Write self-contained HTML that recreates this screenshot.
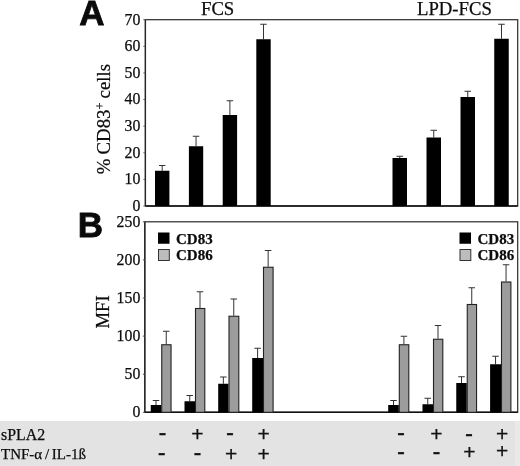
<!DOCTYPE html>
<html><head><meta charset="utf-8"><title>Figure</title>
<style>
html,body{margin:0;padding:0;background:#fff;}
body{width:520px;height:466px;overflow:hidden;}
svg{display:block;}
text{font-family:"Liberation Serif","DejaVu Serif",serif;fill:#0c0c0c;stroke:#0c0c0c;stroke-width:0.25px;}
.t{font-size:15.8px;text-anchor:end;}
.h{font-size:18.7px;}
.pl{font-family:"Liberation Sans","DejaVu Sans",sans-serif;font-weight:bold;fill:#0a0a0a;stroke:#0a0a0a;stroke-width:0.8px;font-size:35px;}
.lg{font-size:15px;font-weight:bold;}
.pm{font-family:"Liberation Sans","DejaVu Sans",sans-serif;font-size:21px;text-anchor:middle;fill:#111;}
.mn{font-size:24px;}
.row{font-size:15px;}
</style></head><body>
<svg width="520" height="466" viewBox="0 0 520 466">
<rect x="0" y="0" width="520" height="466" fill="#fff"/>
<rect x="0" y="421" width="520" height="45" fill="#e3e3e3"/>
<rect x="515" y="421" width="5" height="45" fill="#e9e9e9"/>

<rect x="145.4" y="19.7" width="372.30000000000007" height="186.3" fill="none" stroke="#2a2a2a" stroke-width="1.2"/>
<line x1="145.4" y1="19.7" x2="145.4" y2="206.0" stroke="#262626" stroke-width="1.35"/>
<line x1="145.4" y1="206.0" x2="517.7" y2="206.0" stroke="#111" stroke-width="1.5"/>
<rect x="144.8" y="221.8" width="372.90000000000003" height="190.5" fill="none" stroke="#2a2a2a" stroke-width="1.2"/>
<line x1="144.8" y1="221.8" x2="144.8" y2="412.3" stroke="#262626" stroke-width="1.35"/>
<line x1="144.8" y1="412.3" x2="517.7" y2="412.3" stroke="#111" stroke-width="1.5"/>
<line x1="143.4" y1="206.00" x2="145.4" y2="206.00" stroke="#555" stroke-width="1"/>
<text class="t" x="140.3" y="210.80">0</text>
<line x1="143.4" y1="179.39" x2="145.4" y2="179.39" stroke="#555" stroke-width="1"/>
<text class="t" x="140.3" y="184.19">10</text>
<line x1="143.4" y1="152.77" x2="145.4" y2="152.77" stroke="#555" stroke-width="1"/>
<text class="t" x="140.3" y="157.57">20</text>
<line x1="143.4" y1="126.16" x2="145.4" y2="126.16" stroke="#555" stroke-width="1"/>
<text class="t" x="140.3" y="130.96">30</text>
<line x1="143.4" y1="99.54" x2="145.4" y2="99.54" stroke="#555" stroke-width="1"/>
<text class="t" x="140.3" y="104.34">40</text>
<line x1="143.4" y1="72.93" x2="145.4" y2="72.93" stroke="#555" stroke-width="1"/>
<text class="t" x="140.3" y="77.73">50</text>
<line x1="143.4" y1="46.31" x2="145.4" y2="46.31" stroke="#555" stroke-width="1"/>
<text class="t" x="140.3" y="51.11">60</text>
<line x1="143.4" y1="19.70" x2="145.4" y2="19.70" stroke="#555" stroke-width="1"/>
<text class="t" x="140.3" y="24.50">70</text>
<line x1="142.8" y1="412.30" x2="144.8" y2="412.30" stroke="#555" stroke-width="1"/>
<text class="t" x="140.3" y="417.10">0</text>
<line x1="142.8" y1="374.20" x2="144.8" y2="374.20" stroke="#555" stroke-width="1"/>
<text class="t" x="140.3" y="379.00">50</text>
<line x1="142.8" y1="336.10" x2="144.8" y2="336.10" stroke="#555" stroke-width="1"/>
<text class="t" x="140.3" y="340.90">100</text>
<line x1="142.8" y1="298.00" x2="144.8" y2="298.00" stroke="#555" stroke-width="1"/>
<text class="t" x="140.3" y="302.80">150</text>
<line x1="142.8" y1="259.90" x2="144.8" y2="259.90" stroke="#555" stroke-width="1"/>
<text class="t" x="140.3" y="264.70">200</text>
<line x1="142.8" y1="221.80" x2="144.8" y2="221.80" stroke="#555" stroke-width="1"/>
<text class="t" x="140.3" y="226.60">250</text>
<path d="M162.20 170.75V165.50M158.95 165.50H165.45" stroke="#333" stroke-width="1" fill="none"/>
<rect x="155.0" y="170.75" width="14.400000000000006" height="35.25" fill="#000"/>
<path d="M196.05 146.25V136.25M192.80 136.25H199.30" stroke="#333" stroke-width="1" fill="none"/>
<rect x="188.9" y="146.25" width="14.299999999999983" height="59.75" fill="#000"/>
<path d="M229.90 115.00V100.75M226.65 100.75H233.15" stroke="#333" stroke-width="1" fill="none"/>
<rect x="222.7" y="115" width="14.400000000000006" height="91.0" fill="#000"/>
<path d="M263.50 39.25V24.25M260.25 24.25H266.75" stroke="#333" stroke-width="1" fill="none"/>
<rect x="256.3" y="39.25" width="14.399999999999977" height="166.75" fill="#000"/>
<path d="M399.75 158.00V156.25M396.50 156.25H403.00" stroke="#333" stroke-width="1" fill="none"/>
<rect x="392.5" y="158" width="14.5" height="48.0" fill="#000"/>
<path d="M433.75 137.50V130.25M430.50 130.25H437.00" stroke="#333" stroke-width="1" fill="none"/>
<rect x="426.5" y="137.5" width="14.5" height="68.5" fill="#000"/>
<path d="M467.75 97.00V91.25M464.50 91.25H471.00" stroke="#333" stroke-width="1" fill="none"/>
<rect x="460.5" y="97" width="14.5" height="109.0" fill="#000"/>
<path d="M501.50 38.75V24.25M498.25 24.25H504.75" stroke="#333" stroke-width="1" fill="none"/>
<rect x="494.25" y="38.75" width="14.5" height="167.25" fill="#000"/>
<path d="M156.00 405.00V400.50M152.75 400.50H159.25" stroke="#333" stroke-width="1" fill="none"/>
<path d="M166.25 344.25V331.25M163.00 331.25H169.50" stroke="#333" stroke-width="1" fill="none"/>
<rect x="150.75" y="405" width="10.5" height="7.300000000000011" fill="#000"/>
<rect x="161.75" y="344.75" width="9.3" height="67.55000000000001" fill="#9c9c9c" stroke="#222" stroke-width="1.1"/>
<path d="M189.75 401.25V395.50M186.50 395.50H193.00" stroke="#333" stroke-width="1" fill="none"/>
<path d="M200.00 308.00V291.75M196.75 291.75H203.25" stroke="#333" stroke-width="1" fill="none"/>
<rect x="184.5" y="401.25" width="10.5" height="11.050000000000011" fill="#000"/>
<rect x="195.5" y="308.5" width="9.3" height="103.80000000000001" fill="#9c9c9c" stroke="#222" stroke-width="1.1"/>
<path d="M223.35 383.75V377.00M220.10 377.00H226.60" stroke="#333" stroke-width="1" fill="none"/>
<path d="M233.75 315.75V299.00M230.50 299.00H237.00" stroke="#333" stroke-width="1" fill="none"/>
<rect x="218.2" y="383.75" width="10.300000000000011" height="28.55000000000001" fill="#000"/>
<rect x="229.0" y="316.25" width="9.8" height="96.05000000000001" fill="#9c9c9c" stroke="#222" stroke-width="1.1"/>
<path d="M257.60 358.00V348.25M254.35 348.25H260.85" stroke="#333" stroke-width="1" fill="none"/>
<path d="M268.15 266.75V250.50M264.90 250.50H271.40" stroke="#333" stroke-width="1" fill="none"/>
<rect x="252.2" y="358" width="10.800000000000011" height="54.30000000000001" fill="#000"/>
<rect x="263.5" y="267.25" width="9.600000000000012" height="145.05" fill="#9c9c9c" stroke="#222" stroke-width="1.1"/>
<path d="M393.50 405.00V400.50M390.25 400.50H396.75" stroke="#333" stroke-width="1" fill="none"/>
<path d="M403.90 344.25V336.25M400.65 336.25H407.15" stroke="#333" stroke-width="1" fill="none"/>
<rect x="388.2" y="405" width="10.600000000000023" height="7.300000000000011" fill="#000"/>
<rect x="399.3" y="344.75" width="9.49999999999999" height="67.55000000000001" fill="#9c9c9c" stroke="#222" stroke-width="1.1"/>
<path d="M427.75 404.25V398.25M424.50 398.25H431.00" stroke="#333" stroke-width="1" fill="none"/>
<path d="M438.00 338.75V325.50M434.75 325.50H441.25" stroke="#333" stroke-width="1" fill="none"/>
<rect x="422.5" y="404.25" width="10.5" height="8.050000000000011" fill="#000"/>
<rect x="433.5" y="339.25" width="9.3" height="73.05000000000001" fill="#9c9c9c" stroke="#222" stroke-width="1.1"/>
<path d="M461.50 383.00V376.75M458.25 376.75H464.75" stroke="#333" stroke-width="1" fill="none"/>
<path d="M471.75 304.00V287.75M468.50 287.75H475.00" stroke="#333" stroke-width="1" fill="none"/>
<rect x="456.25" y="383" width="10.5" height="29.30000000000001" fill="#000"/>
<rect x="467.25" y="304.5" width="9.3" height="107.80000000000001" fill="#9c9c9c" stroke="#222" stroke-width="1.1"/>
<path d="M495.55 364.25V356.25M492.30 356.25H498.80" stroke="#333" stroke-width="1" fill="none"/>
<path d="M506.05 281.50V264.75M502.80 264.75H509.30" stroke="#333" stroke-width="1" fill="none"/>
<rect x="490.1" y="364.25" width="10.899999999999977" height="48.05000000000001" fill="#000"/>
<rect x="501.5" y="282.0" width="9.400000000000023" height="130.3" fill="#9c9c9c" stroke="#222" stroke-width="1.1"/>
<rect x="158" y="232.5" width="11.5" height="11.25" fill="#000"/>
<rect x="158.5" y="249.5" width="10.8" height="11" fill="#bdbdbd" stroke="#333" stroke-width="1"/>
<text class="lg" x="176" y="243.6">CD83</text>
<text class="lg" x="176" y="259.9">CD86</text>
<rect x="459.5" y="232.5" width="11.5" height="11.25" fill="#000"/>
<rect x="460.0" y="249.5" width="10.8" height="11" fill="#bdbdbd" stroke="#333" stroke-width="1"/>
<text class="lg" x="477.5" y="243.6">CD83</text>
<text class="lg" x="477.5" y="259.9">CD86</text>
<text class="h" x="201" y="14.8">FCS</text>
<text class="h" x="417" y="14.8">LPD-FCS</text>
<text class="pl" x="79.3" y="25.1">A</text>
<text class="pl" x="77.8" y="237.4">B</text>
<text class="h" style="font-size:18.8px;word-spacing:-0.6px" transform="translate(110,174.2) rotate(-90)">% CD83<tspan style="font-size:12.5px" dy="-6">+</tspan><tspan dy="6"> cells</tspan></text>
<text class="h" transform="translate(109.3,328.6) rotate(-90)">MFI</text>
<text class="row" x="1.1" y="439.7" style="font-size:15.9px">sPLA2</text>
<text class="row" x="1" y="458.5" word-spacing="-1">TNF-α / IL-1ß</text>
<text class="pm mn" x="162.4" y="440.17">-</text>
<text class="pm" x="197.5" y="440.73">+</text>
<text class="pm mn" x="230.0" y="440.17">-</text>
<text class="pm" x="263.75" y="440.73">+</text>
<text class="pm mn" x="161.8" y="459.87">-</text>
<text class="pm mn" x="197.6" y="459.87">-</text>
<text class="pm" x="231.25" y="460.73">+</text>
<text class="pm" x="263.75" y="460.73">+</text>
<text class="pm mn" x="400.9" y="440.37">-</text>
<text class="pm" x="436.5" y="440.73">+</text>
<text class="pm mn" x="469.0" y="440.57">-</text>
<text class="pm" x="502.25" y="440.73">+</text>
<text class="pm mn" x="400.9" y="458.87">-</text>
<text class="pm mn" x="436.4" y="458.87">-</text>
<text class="pm" x="469.4" y="459.03">+</text>
<text class="pm" x="502.25" y="458.03">+</text>
</svg></body></html>
